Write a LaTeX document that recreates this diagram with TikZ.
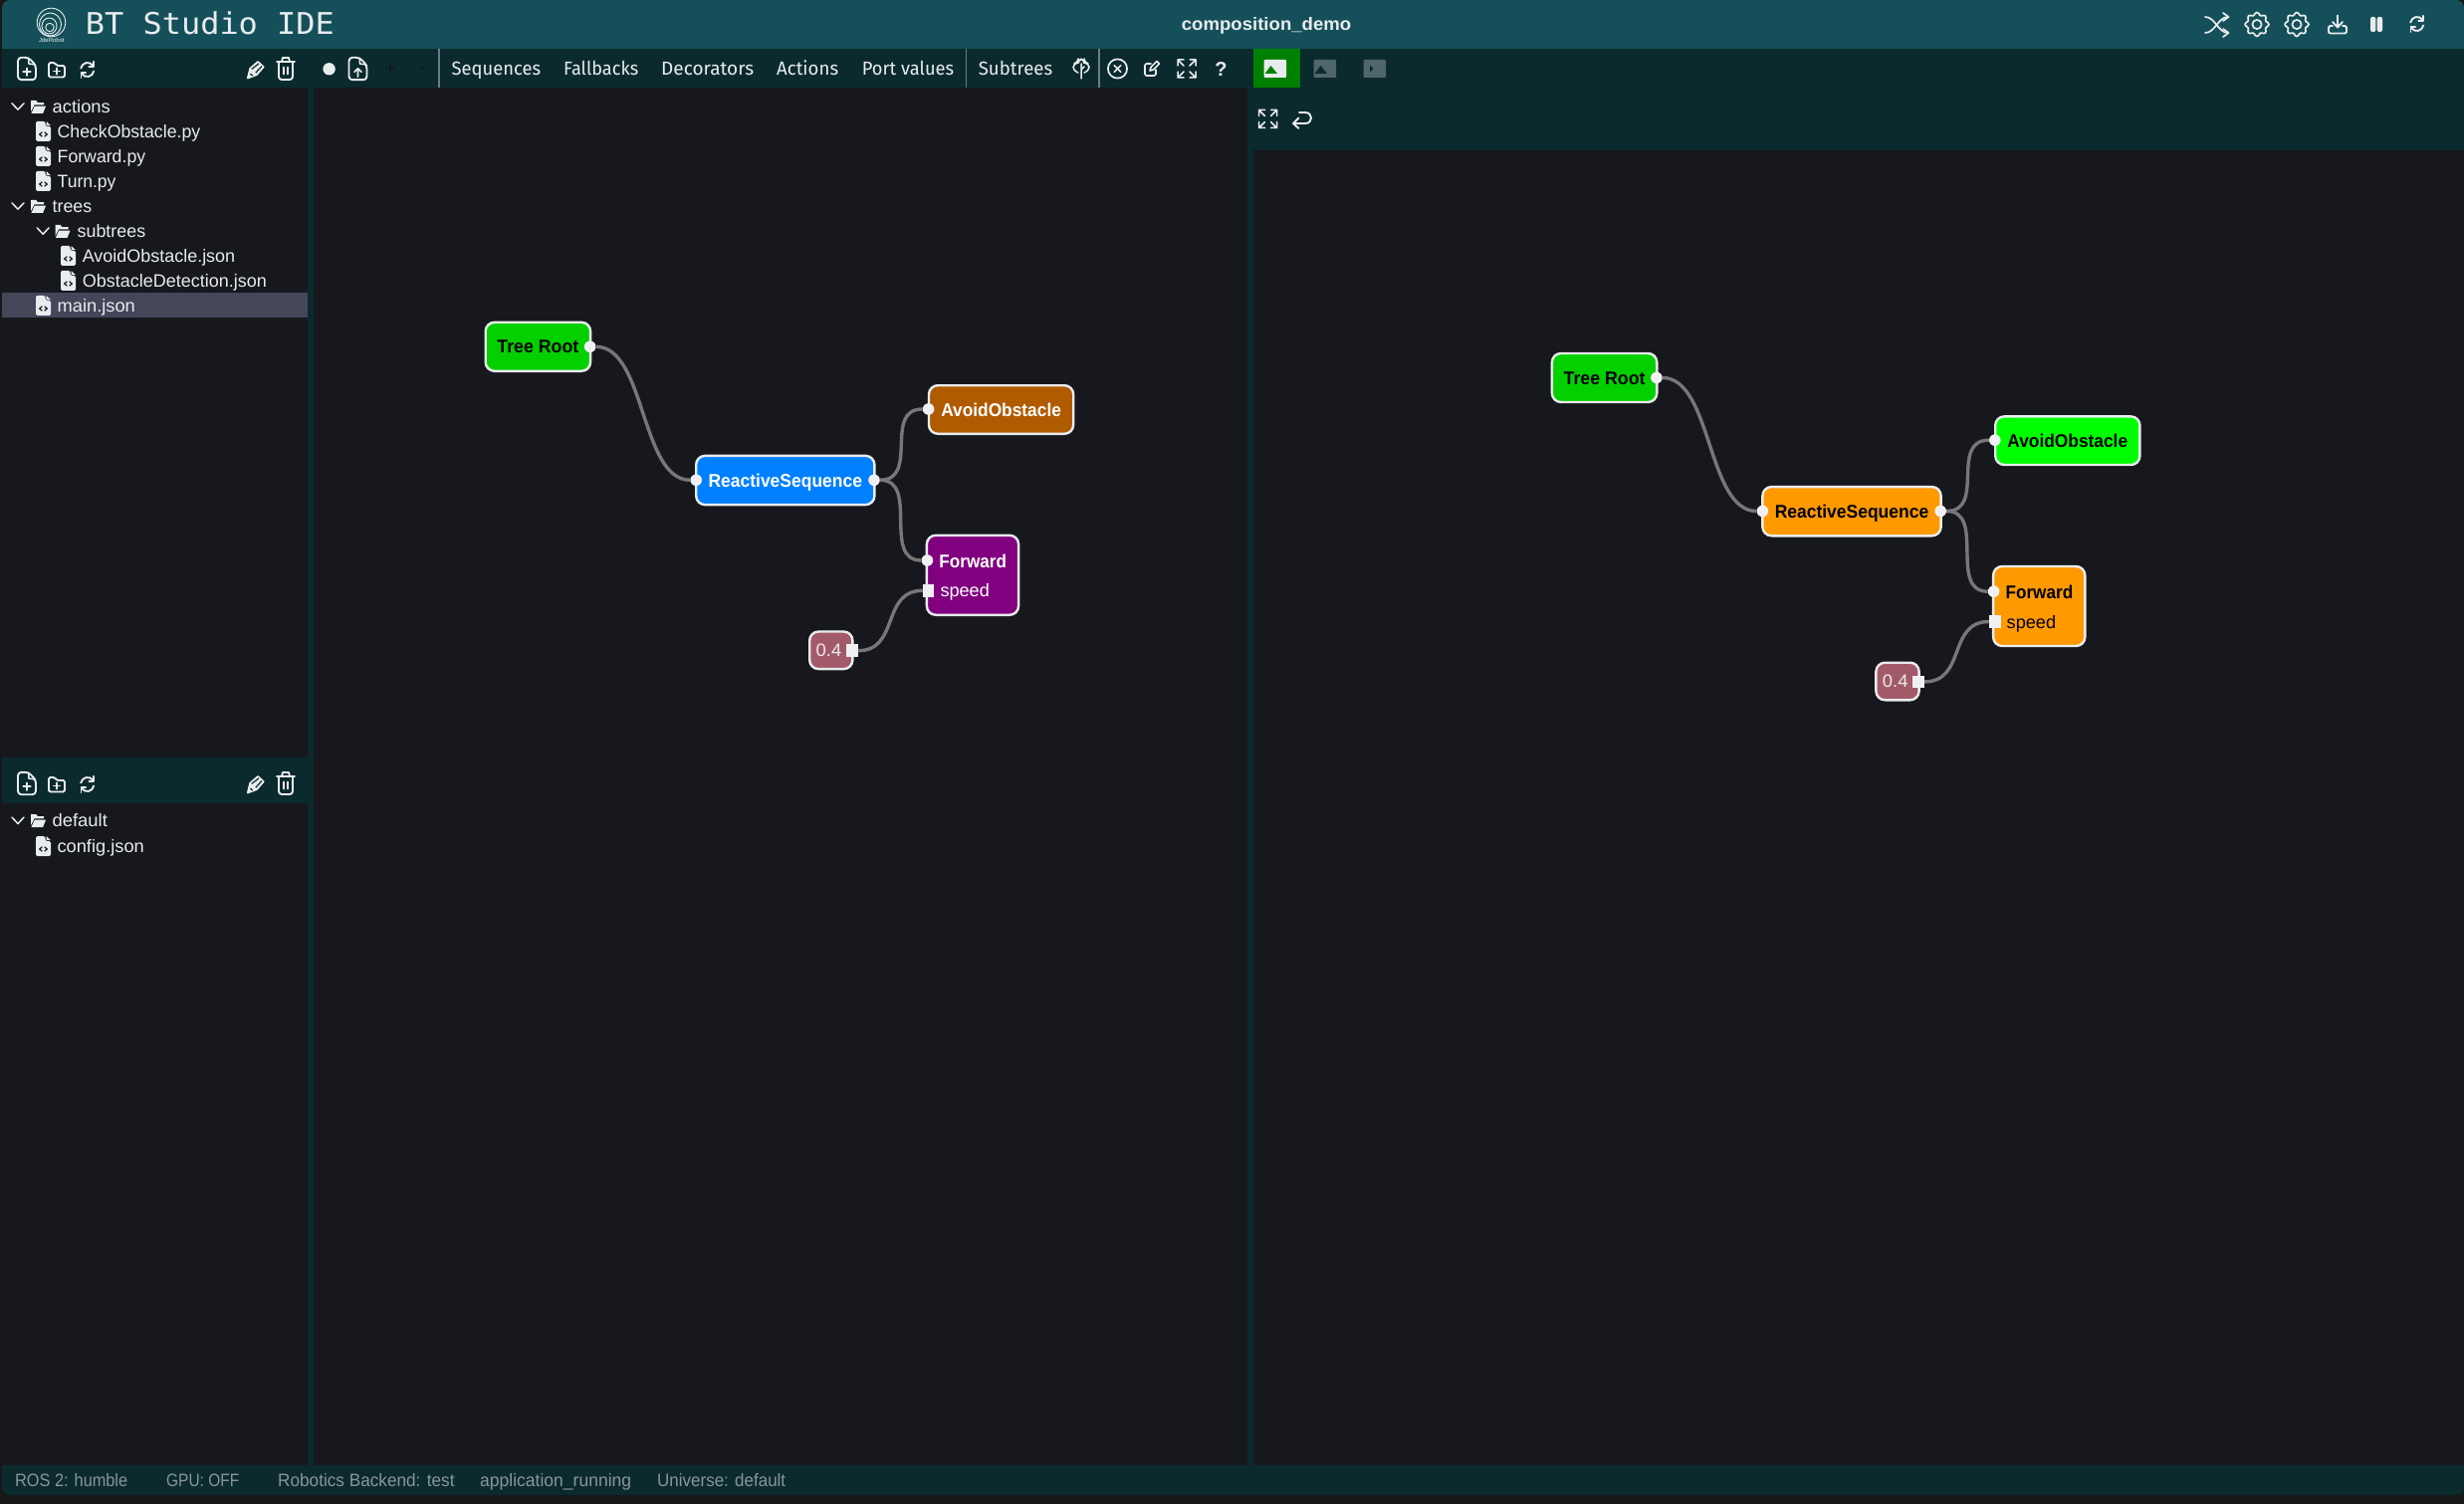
\documentclass[tikz,border=0pt]{standalone}
\usepackage{fontspec}
\usepackage{graphicx}
\setmainfont{Liberation Sans}
\newfontfamily\barfont{Fira Sans}
\newfontfamily\monofont{DejaVu Sans Mono}
\definecolor{outerbg}{HTML}{171717}
\definecolor{titlebar}{HTML}{15505A}
\definecolor{toolbar}{HTML}{0B2A2D}
\definecolor{panel}{HTML}{16181D}
\definecolor{hilite}{HTML}{45465A}
\definecolor{icon}{HTML}{E9ECEE}
\definecolor{statustext}{HTML}{87969A}
\definecolor{sepline}{HTML}{6C7C88}
\definecolor{rootgreen}{HTML}{04D000}
\definecolor{seqblue}{HTML}{0080FF}
\definecolor{avoidbrown}{HTML}{B15B00}
\definecolor{fwdpurple}{HTML}{800080}
\definecolor{valrose}{HTML}{A35A68}
\definecolor{brightgreen}{HTML}{00FF00}
\definecolor{runorange}{HTML}{FF9900}
\definecolor{edgegrey}{HTML}{777777}
\definecolor{portwhite}{HTML}{F0F0F2}
\definecolor{btngreen}{HTML}{008000}
\definecolor{btngrey}{HTML}{4F666A}
\definecolor{faintmark}{HTML}{101214}
\newcommand\fw[2]{\resizebox{#1pt}{\height}{#2}}
\newcommand\fsz[1]{\fontsize{#1}{#1}\selectfont}
\tikzset{
  x=1pt,y=-1pt,
  ic/.style={draw=icon,line width=1.9pt,line cap=round,line join=round,fill=none},
  icf/.style={fill=icon,draw=none},
  treetext/.style={anchor=base west,inner sep=0pt,text=icon,font=\fsz{18}},
  bartext/.style={anchor=base west,inner sep=0pt,text=icon,font=\barfont\fsz{19}},
  statustxt/.style={anchor=base west,inner sep=0pt,text=statustext,font=\fsz{18}},
  btbox/.style={draw=icon,line width=2.4pt,rounded corners=9pt,inner sep=0pt,font=\bfseries\fsz{18.5},text height=15.4pt,text depth=2pt},
  inport/.style={circle,fill=portwhite,draw=none,minimum size=11.6pt,inner sep=0pt},
  valport/.style={rectangle,fill=portwhite,draw=none,minimum width=11.5pt,minimum height=12.5pt,inner sep=0pt},
  edge/.style={draw=edgegrey,line width=3.4pt},
  sep/.style={draw=sepline,line width=1.2pt},
}
% --- icons
\newcommand\chev[2]{\draw[draw=icon,line width=1.5pt,line cap=round,line join=round] (#1-6,#2-3.2) -- (#1,#2+3.2) -- (#1+6,#2-3.2);}
\newcommand\folderopen[2]{\begin{scope}[shift={(#1,#2)}]
  \fill[icon] (0.5,0) -- (5.5,0) -- (7.5,2.2) -- (13.5,2.2) -- (13.5,4.3) -- (4,4.3) -- (0.5,11) -- cycle;
  \fill[icon] (4.2,5.6) -- (15.5,5.6) -- (12.5,13) -- (0.8,13) -- cycle;
\end{scope}}
\newcommand\fileic[2]{\begin{scope}[shift={(#1,#2)}]
  \fill[icon,rounded corners=1.5pt] (0,0) -- (9.5,0) -- (9.5,5) -- (15,5) -- (15,20) -- (0,20) -- cycle;
  \fill[icon] (10.5,0) -- (15,4.2) -- (10.5,4.2) -- cycle;
  \draw[draw=panel,line width=1.2pt] (6.3,10.8) -- (3.8,13) -- (6.3,15.2) (8.7,10.8) -- (11.2,13) -- (8.7,15.2);
\end{scope}}
\newcommand\newfile[2]{\begin{scope}[shift={(#1,#2)}]
  \draw[ic,rounded corners=3.5pt] (1,0.8) -- (11.5,0.8) -- (19,8.5) -- (19,23.2) -- (1,23.2) -- cycle;
  \draw[ic,line width=1.5pt] (11.8,1.2) -- (11.8,7) -- (18.5,8);
  \draw[ic,line width=1.6pt] (10,11.5) -- (10,19) (6.2,15.2) -- (13.8,15.2);
\end{scope}}
\newcommand\upfile[2]{\begin{scope}[shift={(#1,#2)}]
  \draw[ic,rounded corners=3.5pt] (1,0.8) -- (11.5,0.8) -- (19,8.5) -- (19,23.2) -- (1,23.2) -- cycle;
  \draw[ic,line width=1.5pt] (11.8,1.2) -- (11.8,7) -- (18.5,8);
  \draw[ic,line width=1.6pt] (10,12) -- (10,20) (6.5,15.2) -- (10,11.7) -- (13.5,15.2);
\end{scope}}
\newcommand\newfolder[2]{\begin{scope}[shift={(#1,#2)}]
  \draw[ic,rounded corners=1.5pt] (1,1) -- (7,1) -- (9,4) -- (17,4) -- (17,15.5) -- (1,15.5) -- cycle;
  \draw[ic,line width=1.6pt] (9,6.3) -- (9,12.7) (5.8,9.5) -- (12.2,9.5);
\end{scope}}
\newcommand\refreshic[2]{\begin{scope}[shift={(#1,#2)}]
  \draw[ic] (2.2,7.5) .. controls (3.5,1.5) and (11,0) .. (14.5,5);
  \draw[ic] (15,0.8) -- (15,5.6) -- (10.4,5.6);
  \draw[ic] (15.2,10.5) .. controls (14,16.5) and (6.5,18) .. (3,13);
  \draw[ic] (2.5,17.2) -- (2.5,12.4) -- (7.1,12.4);
\end{scope}}
\newcommand\pencilic[2]{\begin{scope}[shift={(#1,#2)}]
  \draw[ic,line width=1.7pt,fill=icon] (0.8,17.5) -- (3.2,7.8) -- (11,1) -- (16.8,6.2) -- (9.8,14.2) -- cycle;
  \draw[draw=toolbar,line width=1.2pt] (4.8,8.4) -- (12,2.8) (8.8,12.2) -- (15,5.5) (3.5,13) -- (5.6,15.2);
\end{scope}}
\newcommand\trashic[2]{\begin{scope}[shift={(#1,#2)}]
  \draw[ic] (1,5) -- (19,5);
  \draw[ic] (6,5) -- (7,1) -- (13,1) -- (14,5);
  \draw[ic,rounded corners=3pt] (3,5) -- (3,23) -- (17,23) -- (17,5);
  \draw[ic] (8,10.5) -- (8,17.5) (12,10.5) -- (12,17.5);
\end{scope}}
\newcommand\filetools[1]{
  \newfile{17}{57+#1}
  \newfolder{48}{62+#1}
  \refreshic{79}{61+#1}
  \pencilic{248}{61+#1}
  \trashic{277}{57+#1}
}
\newcommand\expandic[2]{\begin{scope}[shift={(#1,#2)}]
  \draw[ic,line width=1.5pt] (1,7) -- (1,1) -- (7,1) (1,1) -- (7,7);
  \draw[ic,line width=1.5pt] (19,7) -- (19,1) -- (13,1) (19,1) -- (13,7);
  \draw[ic,line width=1.5pt] (1,13) -- (1,19) -- (7,19) (1,19) -- (7,13);
  \draw[ic,line width=1.5pt] (19,13) -- (19,19) -- (13,19) (19,19) -- (13,13);
\end{scope}}
\newcommand\gearic[2]{\draw[ic,line width=1.7pt] plot[domain=0:352.5,samples=48,smooth cycle] ({#1+(10.7+1.3*cos(8*\x))*cos(\x)},{#2+(10.7+1.3*cos(8*\x))*sin(\x)});
  \draw[ic,line width=1.7pt] (#1,#2) circle[radius=4.6pt];}
\newcommand\btgraph[9]{\begin{scope}[shift={(#2,#3)}]
  \node[btbox,fill=rootgreen,text=black,minimum width=105.4pt,minimum height=49pt] (#1root) at (540.4,348.3) {\fw{82}{Tree Root}};
  \node[btbox,fill=#4,text=#5,minimum width=179.2pt,minimum height=49.2pt] (#1seq) at (788.8,482.5) {\fw{154.5}{ReactiveSequence}};
  \node[btbox,fill=#6,text=#7,minimum width=145.2pt,minimum height=48.6pt] (#1avoid) at (1005.6,411.5) {\fw{120.7}{AvoidObstacle}};
  \node[btbox,fill=#8,minimum width=92.2pt,minimum height=80pt] (#1fwd) at (977,577.8) {};
  \node[btbox,fill=valrose,minimum width=43.2pt,minimum height=37.6pt] (#1val) at (834.8,653.3) {};
  \node[anchor=base,inner sep=0pt,text=#9,font=\bfseries\fsz{18.5}] (#1fwdlbl) at (977.2,570.2) {\fw{67.6}{Forward}};
  \node[anchor=base west,inner sep=0pt,text=#9,font=\fsz{18}] (#1speed) at (944.3,599.8) {\fw{49.4}{speed}};
  \node[anchor=base west,inner sep=0pt,text=icon,font=\fsz{18}] (#1vallbl) at (819.5,659.3) {\fw{25.7}{0.4}};
  \node[inport] (#1rootout) at (592.7,348.3) {};
  \node[inport] (#1seqin) at (699.2,482.3) {};
  \node[inport] (#1seqout) at (878,482.3) {};
  \node[inport] (#1avoidin) at (932.6,411) {};
  \node[inport] (#1fwdin) at (931.4,563) {};
  \node[valport] (#1speedport) at (932.7,593.3) {};
  \node[valport] (#1valout) at (856,653.7) {};
  \draw[edge] (#1rootout.east) .. controls +(50,0) and +(-50,0) .. (#1seqin.west);
  \draw[edge] (#1seqout.east) .. controls +(40,0) and +(-40,0) .. (#1avoidin.west);
  \draw[edge] (#1seqout.east) .. controls +(40,0) and +(-40,0) .. (#1fwdin.west);
  \draw[edge] (#1valout.east) .. controls +(42,0) and +(-42,0) .. (#1speedport.west);
\end{scope}}
\begin{document}
\begin{tikzpicture}
\useasboundingbox (0,0) rectangle (2475,1511);
\fill[outerbg] (0,0) rectangle (2475,1511);
% main window
\fill[panel,rounded corners=8pt] (2,0) rectangle (2475,1502);
\fill[titlebar,rounded corners=8pt] (2,0) rectangle (2475,20);
\fill[titlebar] (2,10) rectangle (2475,49);
\fill[toolbar] (2,49) rectangle (2475,88);
\fill[toolbar] (1253,88) rectangle (2475,151);
\fill[toolbar] (309,88) rectangle (315,1472);
\fill[toolbar] (1253,88) rectangle (1259,1472);
\fill[toolbar] (2,761) rectangle (309,807);
\fill[toolbar,rounded corners=8pt] (2,1472) rectangle (2475,1502);
\fill[toolbar] (2,1472) rectangle (2475,1490);
\fill[hilite] (2,294) rectangle (309,319);
% title
\draw[draw=icon,line width=0.9pt] (51.5,22.5) circle[radius=14.3pt];
\draw[draw=icon,line width=0.9pt] (50.5,24.5) ellipse[x radius=11pt,y radius=11.5pt];
\draw[draw=icon,line width=0.9pt] (49.5,26) ellipse[x radius=7.5pt,y radius=8pt];
\draw[draw=icon,line width=0.9pt] (50,27.5) circle[radius=4.2pt];
\node[anchor=base,inner sep=0pt,text=icon,font=\fsz{6}] (logotext) at (52,42.5) {JdeRobot};
\node[anchor=base west,inner sep=0pt,text=icon,font=\monofont\fsz{30}] (title) at (85.7,35) {\fw{250}{BT Studio IDE}};
\node[anchor=base west,inner sep=0pt,text=icon,font=\bfseries\fsz{18}] (appname) at (1186.6,31) {\fw{170.5}{composition\_demo}};
% top right icons
\draw[ic,line width=1.7pt] (2215,17) .. controls (2225,17) and (2228,33) .. (2238,33);
\draw[ic,line width=1.7pt] (2215,33) .. controls (2225,33) and (2228,17) .. (2238,17);
\draw[ic,line width=1.7pt] (2233,13) -- (2238.5,17) -- (2233,21) (2233,29) -- (2238.5,33) -- (2233,37);
\gearic{2267}{24.5}
\gearic{2307}{24.5}
\draw[ic] (2348,15.5) -- (2348,27) (2343,22) -- (2348,27.5) -- (2353,22);
\draw[ic,rounded corners=1.5pt] (2343,26) -- (2339,26) -- (2339,33.5) -- (2357,33.5) -- (2357,26) -- (2353,26);
\fill[icon,rounded corners=2pt] (2381,17) rectangle (2386.3,32);
\fill[icon,rounded corners=2pt] (2387.7,17) rectangle (2393,32);
\refreshic{2419}{15}
% toolbar left
\filetools{0}
\fill[icon] (330.6,69.3) circle[radius=6.2pt];
\upfile{349.5}{57}
\node[anchor=center,inner sep=0pt,text=faintmark,font=\fsz{16}] (plus) at (392,70) {+};
\node[anchor=center,inner sep=0pt,text=faintmark,font=\fsz{16}] (minus) at (424.5,70) {-};
\draw[sep] (441,49) -- (441,88);
\node[bartext] (seqs) at (453.5,76) {\fw{89.5}{Sequences}};
\node[bartext] (falls) at (566,76) {\fw{75}{Fallbacks}};
\node[bartext] (decos) at (664,76) {\fw{93}{Decorators}};
\node[bartext] (acts) at (780,76) {\fw{62}{Actions}};
\node[bartext] (ports) at (865.6,76) {\fw{92.4}{Port values}};
\draw[sep] (970.5,49) -- (970.5,88);
\node[bartext] (subs) at (982.6,76) {\fw{74.5}{Subtrees}};
% tree icon
\draw[ic,line width=1.5pt,rounded corners=4pt] (1083,73) -- (1078,71) -- (1078,64) -- (1083,63) -- (1083,59.5) -- (1089,59.5) -- (1089,63) -- (1094,64) -- (1094,71) -- (1089,73);
\draw[ic,line width=1.5pt] (1086,64) -- (1086,79) (1086,70) -- (1089,67);
\draw[sep] (1104,49) -- (1104,88);
\draw[ic,line width=1.7pt] (1122.5,69) circle[radius=9.6pt];
\draw[ic,line width=1.7pt] (1119.3,65.8) -- (1125.7,72.2) (1125.7,65.8) -- (1119.3,72.2);
\draw[ic,line width=1.7pt,rounded corners=1.5pt] (1156,64) -- (1150,64) -- (1150,76) -- (1161,76) -- (1161,70);
\draw[ic,line width=1.7pt] (1155,71) -- (1156,67.5) -- (1162,61.5) -- (1164.5,64) -- (1158.5,70) -- cycle;
\expandic{1182}{59}
\node[anchor=center,inner sep=0pt,text=icon,font=\bfseries\fsz{20}] (help) at (1226.5,69.5) {?};
% view buttons
\fill[btngreen] (1259,49) rectangle (1306,88);
\fill[icon,rounded corners=1pt] (1269.6,60) rectangle (1292,78);
\fill[btngreen] (1270.5,74) -- (1276.5,66) -- (1283,74) -- cycle;
\fill[btngrey,rounded corners=1pt] (1319.6,60) rectangle (1342,78);
\fill[toolbar] (1320.5,74) -- (1326.5,66) -- (1333,74) -- cycle;
\fill[btngrey,rounded corners=1pt] (1369.6,60) rectangle (1392,78);
\fill[toolbar] (1376,65.5) -- (1379.5,69) -- (1376,72.5) -- cycle;
\expandic{1263.5}{109.5}
\draw[ic] (1305,113) -- (1311,113) .. controls (1319,113) and (1319,124) .. (1311,124) -- (1299.5,124);
\draw[ic] (1304.5,118.5) -- (1299,124) -- (1304.5,129);
% file tree
\chev{18}{107}
\folderopen{30.6}{101}
\node[treetext] (tactions) at (52.5,113.5) {\fw{58.2}{actions}};
\fileic{36}{122}
\node[treetext] (tcheck) at (57.5,138.5) {\fw{143.5}{CheckObstacle.py}};
\fileic{36}{147}
\node[treetext] (tforward) at (57.5,163.5) {\fw{88.5}{Forward.py}};
\fileic{36}{172}
\node[treetext] (tturn) at (57.5,188.5) {\fw{58.8}{Turn.py}};
\chev{18}{207}
\folderopen{30.6}{201}
\node[treetext] (ttrees) at (52.5,213.5) {\fw{39.5}{trees}};
\chev{43.2}{232}
\folderopen{55}{226}
\node[treetext] (tsub) at (77.5,238.5) {\fw{68.5}{subtrees}};
\fileic{61}{247}
\node[treetext] (tavoid) at (82.6,263.5) {\fw{153.4}{AvoidObstacle.json}};
\fileic{61}{272}
\node[treetext] (tdetect) at (82.6,288.5) {\fw{185}{ObstacleDetection.json}};
\fileic{36}{297}
\node[treetext] (tmain) at (57.5,313.5) {\fw{78.2}{main.json}};
% lower panel
\filetools{718}
\chev{18}{824.3}
\folderopen{30.6}{818}
\node[treetext] (tdefault) at (52.3,830.8) {\fw{55.4}{default}};
\fileic{36}{840}
\node[treetext] (tconfig) at (57.3,856.5) {\fw{87.4}{config.json}};
% graphs
\btgraph{a}{0}{0}{seqblue}{white}{avoidbrown}{white}{fwdpurple}{white}
\btgraph{b}{1071.2}{31.2}{runorange}{black}{brightgreen}{black}{runorange}{black}
% status bar
\node[statustxt] (st1) at (15,1493) {\fw{113}{ROS 2: humble}};
\node[statustxt] (st2) at (167,1493) {\fw{73}{GPU: OFF}};
\node[statustxt] (st3) at (279,1493) {\fw{177.4}{Robotics Backend: test}};
\node[statustxt] (st4) at (482,1493) {\fw{152}{application\_running}};
\node[statustxt] (st5) at (660,1493) {\fw{129}{Universe: default}};
\end{tikzpicture}
\end{document}
